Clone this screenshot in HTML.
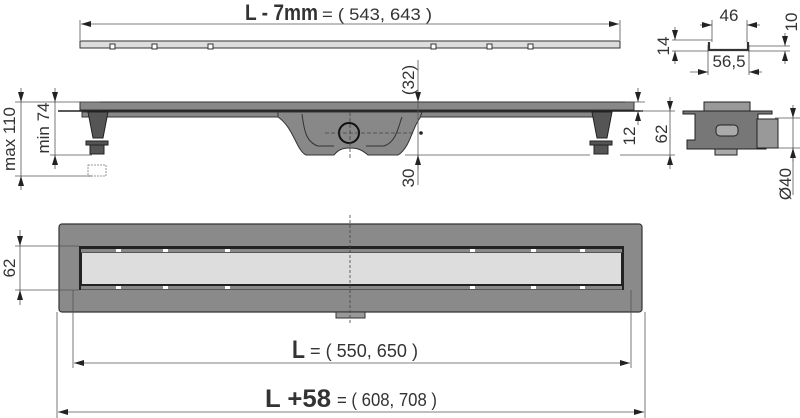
<!DOCTYPE html>
<html><head><meta charset="utf-8"><style>body{margin:0;background:#fff}svg{display:block}text{font-family:"Liberation Sans",sans-serif;fill:#333}</style></head><body>
<svg width="800" height="418" viewBox="0 0 800 418" xmlns="http://www.w3.org/2000/svg">
<defs><marker id="a" viewBox="0 0 10 6" refX="10" refY="3" markerWidth="10" markerHeight="6" orient="auto-start-reverse" markerUnits="userSpaceOnUse"><path d="M0,0L10,3L0,6z" fill="#222"/></marker></defs>
<g stroke="#555" stroke-width="0.8" fill="none">
<line x1="80" y1="20" x2="80" y2="40"/><line x1="620" y1="20" x2="620" y2="40"/>
<line x1="81" y1="24" x2="619" y2="24" marker-start="url(#a)" marker-end="url(#a)"/>
</g>
<text x="245" y="20" font-size="22" font-weight="bold" textLength="73" lengthAdjust="spacingAndGlyphs">L - 7mm</text><text x="322" y="20" font-size="17" textLength="110" lengthAdjust="spacingAndGlyphs">= ( 543, 643 )</text>
<rect x="80" y="41" width="540" height="7" fill="#ddd" stroke="#333" stroke-width="1"/>
<g fill="#fff" stroke="#333" stroke-width="1"><rect x="110" y="44" width="5" height="5"/><rect x="152" y="44" width="5" height="5"/><rect x="208" y="44" width="5" height="5"/><rect x="431" y="44" width="5" height="5"/><rect x="487" y="44" width="5" height="5"/><rect x="528" y="44" width="5" height="5"/></g>
<g stroke="#555" stroke-width="0.8" fill="none">
<line x1="712" y1="20" x2="712" y2="42"/><line x1="747" y1="20" x2="747" y2="42"/>
<line x1="700" y1="25" x2="712" y2="25" marker-end="url(#a)"/><line x1="760" y1="25" x2="747" y2="25" marker-end="url(#a)"/>
<line x1="708" y1="45" x2="708" y2="75"/><line x1="749" y1="45" x2="749" y2="75"/>
<line x1="690" y1="72" x2="708" y2="72" marker-end="url(#a)"/><line x1="762" y1="72" x2="749" y2="72" marker-end="url(#a)"/>
<line x1="672" y1="40" x2="712" y2="40"/><line x1="672" y1="51" x2="708" y2="51"/>
<line x1="675" y1="27" x2="675" y2="40" marker-end="url(#a)"/><line x1="675" y1="64" x2="675" y2="51" marker-end="url(#a)"/>
<line x1="748" y1="46" x2="790" y2="46"/><line x1="748" y1="51" x2="790" y2="51"/>
<line x1="785" y1="33" x2="785" y2="46" marker-end="url(#a)"/><line x1="785" y1="64" x2="785" y2="51" marker-end="url(#a)"/>
</g>
<path d="M709,42v8h39v-8" fill="none" stroke="#333" stroke-width="2.2"/>
<text x="729" y="21" font-size="17" text-anchor="middle">46</text>
<text x="729" y="67" font-size="17" text-anchor="middle">56,5</text>
<text transform="translate(669,46) rotate(-90)" font-size="17" text-anchor="middle">14</text>
<text transform="translate(797,22) rotate(-90)" font-size="17" text-anchor="middle">10</text>
<rect x="80" y="102" width="554" height="8" fill="#888" stroke="#333" stroke-width="1"/>
<line x1="58" y1="111" x2="643" y2="111" stroke="#222" stroke-width="1.5"/>
<path d="M82,112H600V117H82Z" fill="#888" stroke="#333" stroke-width="1"/>
<path d="M278,112H422L420,118C412,128 410,148 398,155H368C362,150 358,148 350,148C342,148 338,150 334,155H306C296,150 294,128 278,117Z" fill="#888" stroke="#333" stroke-width="1"/>
<path d="M302,114C304,130 306,142 318,146H334M366,146H384C396,142 398,128 402,117" fill="none" stroke="#333" stroke-width="1"/>
<circle cx="349" cy="133" r="10" fill="#888" stroke="#111" stroke-width="2"/>
<g stroke="#444" stroke-width="0.8" stroke-dasharray="4,2" fill="none"><line x1="325" y1="133" x2="415" y2="133"/><line x1="350" y1="112" x2="350" y2="160"/><line x1="703" y1="132" x2="778" y2="132"/></g>
<g fill="#555" stroke="#222" stroke-width="1">
<path d="M88,112h20l-5,26h-10z"/><rect x="86" y="141" width="22" height="4"/><rect x="90" y="145" width="14" height="9"/>
<path d="M592,112h20l-5,26h-10z"/><rect x="590" y="141" width="22" height="4"/><rect x="594" y="145" width="14" height="9"/>
</g>
<rect x="88" y="165" width="18" height="11" fill="none" stroke="#777" stroke-width="0.8" stroke-dasharray="2,1"/>
<g stroke="#555" stroke-width="0.8" fill="none">
<line x1="15" y1="102" x2="100" y2="102"/><line x1="15" y1="176" x2="92" y2="176"/><line x1="50" y1="155" x2="92" y2="155"/>
<line x1="21" y1="88" x2="21" y2="102" marker-end="url(#a)"/><line x1="21" y1="102" x2="21" y2="176"/><line x1="21" y1="190" x2="21" y2="176" marker-end="url(#a)"/>
<line x1="55" y1="88" x2="55" y2="102" marker-end="url(#a)"/><line x1="55" y1="102" x2="55" y2="155"/><line x1="55" y1="169" x2="55" y2="155" marker-end="url(#a)"/>
<line x1="418" y1="60" x2="418" y2="102" marker-end="url(#a)"/><line x1="418" y1="102" x2="418" y2="185"/><line x1="418" y1="170" x2="418" y2="155" marker-end="url(#a)"/>
<line x1="405" y1="155" x2="590" y2="155"/><line x1="620" y1="155" x2="675" y2="155"/>
<line x1="625" y1="102" x2="645" y2="102"/><line x1="640" y1="111" x2="675" y2="111"/>
<line x1="638" y1="88" x2="638" y2="102" marker-end="url(#a)"/><line x1="638" y1="125" x2="638" y2="111" marker-end="url(#a)"/>
<line x1="670" y1="97" x2="670" y2="111" marker-end="url(#a)"/><line x1="670" y1="111" x2="670" y2="155"/><line x1="670" y1="169" x2="670" y2="155" marker-end="url(#a)"/>
<line x1="775" y1="118" x2="800" y2="118"/><line x1="775" y1="148" x2="800" y2="148"/>
<line x1="793" y1="105" x2="793" y2="118" marker-end="url(#a)"/><line x1="793" y1="118" x2="793" y2="195"/><line x1="793" y1="162" x2="793" y2="148" marker-end="url(#a)"/>
</g>
<circle cx="421" cy="133" r="1.8" fill="#222"/>
<text transform="translate(15,139) rotate(-90)" font-size="17" text-anchor="middle">max 110</text>
<text transform="translate(49,128) rotate(-90)" font-size="17" text-anchor="middle">min 74</text>
<text transform="translate(414,80) rotate(-90)" font-size="17" text-anchor="middle">(32)</text>
<text transform="translate(414,178) rotate(-90)" font-size="17" text-anchor="middle">30</text>
<text transform="translate(635,136) rotate(-90)" font-size="17" text-anchor="middle">12</text>
<text transform="translate(667,134) rotate(-90)" font-size="17" text-anchor="middle">62</text>
<text transform="translate(791,184) rotate(-90)" font-size="17" text-anchor="middle">Ø40</text>
<g stroke="#222" stroke-width="1" fill="#777">
<rect x="704" y="102" width="46" height="11" fill="#999"/>
<path d="M683,111H772V114H758V140H766V149H687V140H695V114H683Z"/>
<rect x="757" y="119" width="21" height="29" fill="#999"/>
<rect x="716" y="125" width="22" height="11" rx="4" fill="#aaa"/>
<rect x="715" y="149" width="22" height="6" fill="#aaa"/>
</g>
<rect x="59" y="224" width="583" height="88" rx="3" fill="#8a8a8a" stroke="#333" stroke-width="1.2"/>
<rect x="79" y="246" width="545" height="44" fill="#222"/>
<rect x="81" y="249" width="541" height="3.5" fill="#888"/><rect x="81" y="286" width="541" height="3.5" fill="#888"/>
<rect x="82" y="253" width="539" height="31" fill="#ddd"/>
<g fill="#fff"><rect x="116" y="249" width="5" height="3"/><rect x="163" y="249" width="5" height="3"/><rect x="225" y="249" width="5" height="3"/><rect x="470" y="249" width="5" height="3"/><rect x="531" y="249" width="5" height="3"/><rect x="580" y="249" width="5" height="3"/>
<rect x="116" y="286" width="5" height="3"/><rect x="163" y="286" width="5" height="3"/><rect x="225" y="286" width="5" height="3"/><rect x="470" y="286" width="5" height="3"/><rect x="531" y="286" width="5" height="3"/><rect x="580" y="286" width="5" height="3"/></g>
<rect x="336" y="312" width="29" height="6" fill="#999" stroke="#333" stroke-width="1"/>
<line x1="350" y1="215" x2="350" y2="325" stroke="#444" stroke-width="0.8" stroke-dasharray="3,2"/>
<g stroke="#555" stroke-width="0.8" fill="none">
<line x1="15" y1="246" x2="79" y2="246"/><line x1="15" y1="290" x2="79" y2="290"/>
<line x1="20" y1="230" x2="20" y2="246" marker-end="url(#a)"/><line x1="20" y1="246" x2="20" y2="290"/><line x1="20" y1="305" x2="20" y2="290" marker-end="url(#a)"/>
<line x1="73" y1="290" x2="73" y2="368"/><line x1="631" y1="290" x2="631" y2="368"/>
<line x1="74" y1="363" x2="630" y2="363" marker-start="url(#a)" marker-end="url(#a)"/>
<line x1="57" y1="312" x2="57" y2="418"/><line x1="645" y1="312" x2="645" y2="418"/>
<line x1="58" y1="412" x2="644" y2="412" marker-start="url(#a)" marker-end="url(#a)"/>
</g>
<text transform="translate(15,268) rotate(-90)" font-size="17" text-anchor="middle">62</text>
<text x="292" y="358" font-size="25" font-weight="bold" textLength="13" lengthAdjust="spacingAndGlyphs">L</text><text x="310" y="357" font-size="18" textLength="108" lengthAdjust="spacingAndGlyphs">= ( 550, 650 )</text>
<text x="265" y="407" font-size="25" font-weight="bold" textLength="66" lengthAdjust="spacingAndGlyphs">L +58</text><text x="337" y="406" font-size="18" textLength="100" lengthAdjust="spacingAndGlyphs">= ( 608, 708 )</text>
</svg>
</body></html>
